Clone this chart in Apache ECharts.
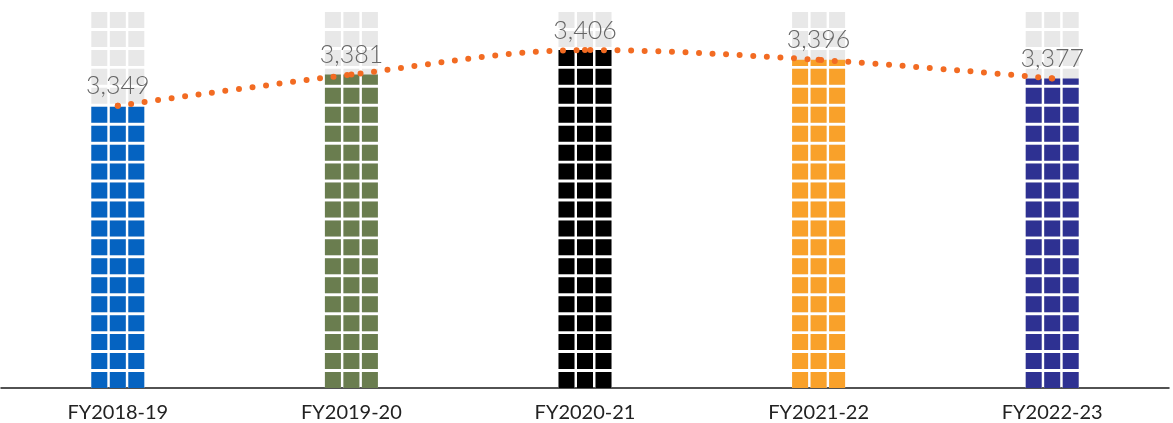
<!DOCTYPE html>
<html>
<head>
<meta charset="utf-8">
<script src="https://cdn.jsdelivr.net/npm/echarts@6/dist/echarts.min.js"></script>
<style>
  html, body { margin: 0; padding: 0; background: #ffffff; }
  #chart { width: 1173px; height: 423px; }
</style>
</head>
<body>
<div id="chart"></div>
<script>
// Fiscal years and yearly totals
const categories = ['FY2018-19', 'FY2019-20', 'FY2020-21', 'FY2021-22', 'FY2022-23'];
const values = [3349, 3381, 3406, 3396, 3377];

// The vertical scale is drawn from BASE upward: every value is plotted as
// (value - BASE) on an axis starting at 0, which keeps pictorialBar's tile
// bounding (measured from zero) aligned with the x-axis.
const BASE = 3060;
const TOP = 3445;

// One row of three tiles; each column is a stack of these rows
const TILE_ROW = 'path://M0,0h16v16h-16z M18.5,0h16v16h-16z M37,0h16v16h-16z';

const barColors = ['#0563C1', '#6A7D4F', '#000000', '#F9A12A', '#2E3192'];

const plotted = values.map(v => v - BASE);
const plottedTop = TOP - BASE;

const chart = echarts.init(document.getElementById('chart'), null, { renderer: 'canvas' });

const tileSeries = {
  type: 'pictorialBar',
  symbol: TILE_ROW,
  symbolSize: [53, 16],
  symbolRepeat: true,
  symbolMargin: 1.6,
  symbolBoundingData: plottedTop,
  barGap: '-100%'
};

chart.setOption({
  animation: false,
  backgroundColor: '#ffffff',
  grid: { left: 1, right: 4, top: 12, bottom: 34, containLabel: false },
  xAxis: {
    type: 'category',
    data: categories,
    axisTick: { show: false },
    axisLine: { lineStyle: { color: '#1a1a1a', width: 1.5 } },
    axisLabel: {
      color: '#222222',
      fontSize: 20,
      fontFamily: 'Lato, "Open Sans", sans-serif',
      margin: 15
    },
    splitLine: { show: false }
  },
  yAxis: {
    type: 'value',
    show: false,
    min: 0,
    max: plottedTop,
    splitLine: { show: false }
  },
  series: [
    Object.assign({}, tileSeries, {
      // light grey tiles filling the whole column height
      name: 'track',
      itemStyle: { color: '#E8E8E8' },
      silent: true,
      z: 1,
      data: plotted.map(() => plottedTop)
    }),
    Object.assign({}, tileSeries, {
      // coloured tiles clipped at each year's value
      name: 'value',
      symbolClip: true,
      z: 2,
      data: plotted.map((v, i) => ({ value: v, itemStyle: { color: barColors[i] } }))
    }),
    {
      // dotted trend line with value labels
      type: 'line',
      data: plotted,
      smooth: 0.35,
      z: 5,
      symbol: 'circle',
      symbolSize: 6,
      itemStyle: { color: '#F26B22' },
      lineStyle: {
        color: '#F26B22',
        width: 6,
        type: [0, 13.6],
        cap: 'round'
      },
      label: {
        show: true,
        position: 'top',
        distance: 4,
        color: '#666666',
        fontSize: 25,
        fontWeight: 300,
        fontFamily: 'Lato, "Open Sans", sans-serif',
        formatter: p => values[p.dataIndex].toLocaleString('en-US')
      }
    }
  ]
});
</script>
</body>
</html>
